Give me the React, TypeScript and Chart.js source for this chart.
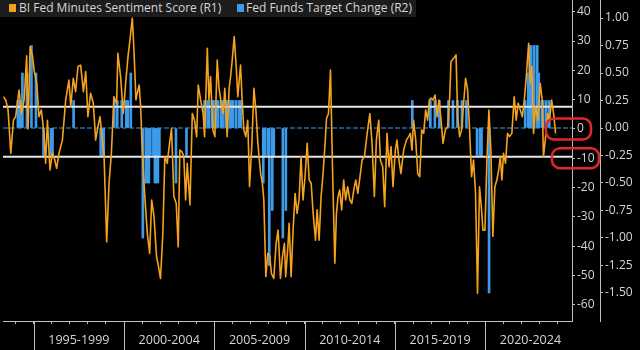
import { useEffect, useRef } from 'react';
import { Chart, registerables } from 'chart.js';

Chart.register(...registerables);

// ---- data ----
const sentimentDates = [
  1993.32, 1993.45, 1993.58, 1993.73, 1993.88, 1994.0, 1994.19, 1994.32, 1994.47, 1994.61, 1994.69, 1994.8, 1994.93,
  1995.02, 1995.17, 1995.29, 1995.42, 1995.57, 1995.66, 1995.76, 1995.9, 1996.03, 1996.12, 1996.27, 1996.4, 1996.59,
  1996.77, 1996.95, 1997.05, 1997.19, 1997.32, 1997.45, 1997.6, 1997.75, 1997.88, 1998.0, 1998.15, 1998.3, 1998.43,
  1998.52, 1998.67, 1998.8, 1998.89, 1999.04, 1999.17, 1999.3, 1999.44, 1999.59, 1999.66, 1999.81, 1999.96, 2000.09,
  2000.22, 2000.33, 2000.46, 2000.55, 2000.66, 2000.73, 2000.84, 2000.92, 2001.01, 2001.14, 2001.29, 2001.42, 2001.53,
  2001.66, 2001.8, 2001.91, 2002.02, 2002.15, 2002.26, 2002.39, 2002.52, 2002.63, 2002.76, 2002.89, 2003.0, 2003.09,
  2003.2, 2003.31, 2003.41, 2003.5, 2003.65, 2003.78, 2003.9, 2004.02, 2004.11, 2004.24, 2004.38, 2004.46, 2004.61,
  2004.7, 2004.79, 2004.92, 2005.03, 2005.16, 2005.25, 2005.38, 2005.49, 2005.58, 2005.71, 2005.82, 2005.9, 2005.99,
  2006.1, 2006.21, 2006.3, 2006.45, 2006.54, 2006.63, 2006.74, 2006.85, 2006.95, 2007.08, 2007.19, 2007.3, 2007.41,
  2007.56, 2007.65, 2007.74, 2007.85, 2007.96, 2008.07, 2008.16, 2008.29, 2008.42, 2008.53, 2008.66, 2008.77, 2008.88,
  2008.95, 2009.07, 2009.14, 2009.25, 2009.36, 2009.47, 2009.58, 2009.69, 2009.8, 2009.91, 2010.02, 2010.14, 2010.25,
  2010.36, 2010.47, 2010.6, 2010.69, 2010.8, 2010.91, 2011.02, 2011.13, 2011.21, 2011.32, 2011.43, 2011.54, 2011.67,
  2011.76, 2011.85, 2011.94, 2012.05, 2012.16, 2012.27, 2012.38, 2012.5, 2012.61, 2012.72, 2012.83, 2012.94, 2013.09,
  2013.18, 2013.31, 2013.46, 2013.61, 2013.73, 2013.86, 2013.97, 2014.1, 2014.19, 2014.32, 2014.43, 2014.56, 2014.67,
  2014.78, 2014.89, 2015.02, 2015.11, 2015.22, 2015.33, 2015.48, 2015.63, 2015.76, 2015.85, 2015.94, 2016.03, 2016.15,
  2016.26, 2016.37, 2016.48, 2016.59, 2016.7, 2016.81, 2016.9, 2016.99, 2017.1, 2017.22, 2017.33, 2017.44, 2017.55,
  2017.66, 2017.79, 2017.92, 2018.03, 2018.1, 2018.25, 2018.38, 2018.47, 2018.58, 2018.69, 2018.8, 2018.91, 2019.02,
  2019.13, 2019.24, 2019.35, 2019.46, 2019.57, 2019.68, 2019.78, 2019.87, 2019.98, 2020.09, 2020.2, 2020.31, 2020.42,
  2020.53, 2020.64, 2020.74, 2020.83, 2020.92, 2021.01, 2021.12, 2021.23, 2021.34, 2021.47, 2021.6, 2021.71, 2021.82,
  2021.94, 2022.05, 2022.16, 2022.27, 2022.4, 2022.49, 2022.58, 2022.67, 2022.78, 2022.91, 2023.04, 2023.15, 2023.22,
  2023.34, 2023.45, 2023.56, 2023.67, 2023.78, 2023.89,
];

const sentimentScores = [
  11, 9.9, 6.5, -8.3, 3, 4.2, 13.3, 5.3, 10, 25, 0, 28, 25,
  20, 15.6, 4.2, 6.5, -1.5, -11.7, 3, -14, -8.3, -9.4, -13.4, -8.3, -3.8,
  9.9, 16.7, 7.6, 17.3, 12.7, 21.3, 21.8, 12.7, 19.6, 4.2, 12.2, 8.8, -3.8,
  -0.3, 4.2, -3.8, -8.3, -38.5, -18.5, -8.3, 11, 8.8, 25.8, 17.9, 5.3, 15.6,
  24.7, 30.4, 37.8, 27, 9.9, 12.2, 15, 7.6, -7.2, -22, -35.6, -42.4, -24.2,
  -29.9, -43.5, -47, -51, -35.6, -9.4, -11.7, -4.9, 0.2, -23, -25.4, -40.2, -7.2,
  -7.7, -9.4, -24.2, -11.7, -25.9, 5.3, 3, -2.6, 15, 9.9, 5.3, -2.6, 27.5,
  9.9, 17.9, -0.3, -2.6, 23.5, 14.4, 8.8, 5.3, 13.9, -2.6, 13.9, 17.9, 23.5,
  31.5, 21.3, 11, 21.8, 9.9, -0.3, -2.6, 3, -19.7, -4.9, 13.9, 6.5, -4.9,
  -15.2, -18, -24.2, -50.4, -42.4, -43.5, -49.3, -51, -39, -34.5, -51, -43.5, -39,
  -50.4, -40.2, -32.2, -50.4, -34.5, -22, -28.8, -24.2, -9.4, -24.2, -16.3, -4.9, -17.4,
  -18.5, -28.8, -37.9, -27.6, -37.9, -23, -15.2, -4.9, 3.6, 5.3, 20.1, -12.9, -45.8,
  -28.8, -23, -20.8, -27.6, -17.4, -24.2, -19.7, -24.2, -25.4, -20.8, -17.4, -22, -15,
  -10.6, -9.4, -1.5, 5.3, -4.9, -23, -3.8, 3, -10.6, -12.9, -26.5, -1.5, -12.9,
  -6, -19.7, -7.2, -3.8, -10.6, -15.2, -7.2, -3.8, -2.6, -1.5, -7.2, 3, -3.8,
  -15.2, -16.3, -0.3, -1.5, 6.5, 3, 9.9, 10.5, 9.9, 11.6, 4.2, 9.9, 3,
  -4.9, -0.3, 0.8, 11, 23, 24.1, 25.3, 4.2, -2.6, -0.3, 8.8, 17.3, 13.3,
  -0.3, -16.3, -10.6, -22, -56, -19.7, -26.5, -34.5, -34.5, -10.6, 6.5, -7.2, -36.7,
  -19.7, -17.4, -14, -9.4, -17.4, -8.3, -11.7, -1.5, -2.6, -1.5, 11, 3, 8.8,
  6.5, 4.2, 9.9, 17.9, 29.2, 15.6, 21.3, -1.5, 7.6, 3, 15.6, 9.9, -9.4,
  -2.6, 5.3, 3, 9.9, 5.3, -1.5,
];

// Fed funds target change by month (percentage points)
const rateChangeMonths = [
  '1994-02', '1994-03', '1994-04', '1994-05', '1994-08', '1994-11',
  '1995-02', '1995-07', '1995-12', '1996-01', '1997-03',
  '1998-09', '1998-10', '1998-11', '1999-06', '1999-08', '1999-11',
  '2000-02', '2000-03', '2000-05',
  '2001-01', '2001-03', '2001-04', '2001-05', '2001-06', '2001-08', '2001-09', '2001-10', '2001-11', '2001-12',
  '2002-11', '2003-06',
  '2004-06', '2004-08', '2004-09', '2004-11', '2004-12',
  '2005-02', '2005-03', '2005-05', '2005-06', '2005-08', '2005-09', '2005-11', '2005-12',
  '2006-01', '2006-03', '2006-05', '2006-06',
  '2007-09', '2007-10', '2007-12',
  '2008-01', '2008-03', '2008-04', '2008-10', '2008-12',
  '2015-12', '2016-12', '2017-03', '2017-06', '2017-12',
  '2018-03', '2018-06', '2018-09', '2018-12',
  '2019-07', '2019-09', '2019-10', '2020-03',
  '2022-03', '2022-05', '2022-06', '2022-07', '2022-09', '2022-11', '2022-12',
  '2023-02', '2023-03', '2023-05', '2023-07',
];
const rateChanges = [
  0.25, 0.25, 0.25, 0.5, 0.5, 0.75,
  0.5, -0.25, -0.25, -0.25, 0.25,
  -0.25, -0.25, -0.25, 0.25, 0.25, 0.25,
  0.25, 0.25, 0.5,
  -1.0, -0.5, -0.5, -0.5, -0.25, -0.25, -0.5, -0.5, -0.5, -0.25,
  -0.5, -0.25,
  0.25, 0.25, 0.25, 0.25, 0.25,
  0.25, 0.25, 0.25, 0.25, 0.25, 0.25, 0.25, 0.25,
  0.25, 0.25, 0.25, 0.25,
  -0.5, -0.25, -0.25,
  -1.25, -0.75, -0.25, -1.0, -0.75,
  0.25, 0.25, 0.25, 0.25, 0.25,
  0.25, 0.25, 0.25, 0.25,
  -0.25, -0.25, -0.25, -1.5,
  0.25, 0.5, 0.75, 0.75, 0.75, 0.75, 0.5,
  0.25, 0.25, 0.25, 0.25,
];

const periodStarts = [1995, 2000, 2005, 2010, 2015, 2020];
const periodLabels = ['1995-1999', '2000-2004', '2005-2009', '2010-2014', '2015-2019', '2020-2024'];
const xMin = 1993.3;
const xMax = 2024.8;
const r1Min = -65.5;
const r1Max = 44;
const r1TickValues = [40, 35, 30, 25, 20, 15, 10, 5, 0, -5, -10, -15, -20, -25, -30, -35, -40, -45, -50, -55, -60];
const r2Min = -1.755;
const r2Max = 1.164;
const r2TickValues = [1.0, 0.75, 0.5, 0.25, 0, -0.25, -0.5, -0.75, -1.0, -1.25, -1.5];
const referenceLevels = [7.6, -9.5];
const circledLevels = [0, -10];

const seriesNames = ['BI Fed Minutes Sentiment Score (R1)', 'Fed Funds Target Change (R2)'];

// ---- styles ----
const ORANGE = '#f5a21c';
const BLUE = '#3d9be9';
const AXIS = '#bdbdbd';
const LABEL = '#d6d6d6';
const FONT = "'Open Sans', 'DejaVu Sans', sans-serif";

const monthToYear = (m: string) => {
  const [y, mo] = m.split('-').map(Number);
  return y + (mo - 0.5) / 12;
};

const decorPlugin = {
  id: 'decor',
  beforeDraw(chart: any) {
    const { ctx, width, height } = chart;
    ctx.save();
    ctx.fillStyle = '#000';
    ctx.fillRect(0, 0, width, height);
    ctx.restore();
  },
  afterDraw(chart: any) {
    const { ctx, height } = chart;
    const x = chart.scales.x;
    const y1 = chart.scales.y1;
    ctx.save();
    ctx.strokeStyle = AXIS;
    ctx.lineWidth = 1;
    periodStarts.forEach((p) => {
      const px = Math.round(x.getPixelForValue(p)) + 0.5;
      ctx.beginPath();
      ctx.moveTo(px, x.top);
      ctx.lineTo(px, height);
      ctx.stroke();
    });
    // red annotation outlines around the 0 and -10 labels
    ctx.strokeStyle = '#e3262e';
    ctx.lineWidth = 2.5;
    const boxes = [
      { v: circledLevels[0], dx: -26, w: 45, h: 21 },
      { v: circledLevels[1], dx: -20, w: 47, h: 20 },
    ];
    boxes.forEach((b) => {
      const cy = y1.getPixelForValue(b.v);
      ctx.beginPath();
      (ctx as any).roundRect(y1.left + b.dx, cy - b.h / 2, b.w, b.h, 8);
      ctx.stroke();
    });
    ctx.restore();
  },
};

export default function App() {
  const canvasRef = useRef<HTMLCanvasElement | null>(null);

  useEffect(() => {
    document.body.style.margin = '0';
    document.body.style.background = '#000';
    const canvas = canvasRef.current;
    if (!canvas) return;

    const lineData = sentimentDates.map((d, i) => ({ x: d, y: sentimentScores[i] }));
    const barData = rateChangeMonths.map((m, i) => ({ x: monthToYear(m), y: rateChanges[i] }));

    const chart = new Chart(canvas, {
      type: 'bar',
      data: {
        datasets: [
          {
            type: 'line',
            label: seriesNames[0],
            data: lineData,
            yAxisID: 'y1',
            borderColor: ORANGE,
            borderWidth: 1.6,
            pointRadius: 0,
            tension: 0,
            borderJoinStyle: 'round',
            order: 0,
          } as any,
          ...referenceLevels.map((lv) => ({
            type: 'line',
            label: 'ref',
            data: [{ x: xMin, y: lv }, { x: xMax, y: lv }],
            yAxisID: 'y1',
            borderColor: '#e6e6e6',
            borderWidth: 2,
            pointRadius: 0,
            order: 1,
          })) as any,
          {
            type: 'bar',
            label: seriesNames[1],
            data: barData,
            yAxisID: 'y2',
            backgroundColor: BLUE,
            borderWidth: 0,
            barThickness: 2,
            order: 2,
          } as any,
          {
            type: 'line',
            label: 'zero',
            data: [{ x: xMin, y: 0 }, { x: xMax, y: 0 }],
            yAxisID: 'y2',
            borderColor: BLUE,
            borderWidth: 1,
            borderDash: [5, 2],
            pointRadius: 0,
            order: 3,
          } as any,
        ],
      },
      options: {
        responsive: false,
        animation: false,
        events: [],
        layout: { padding: { left: 3, top: 0, right: 0, bottom: 0 } },
        plugins: { legend: { display: false }, tooltip: { enabled: false } },
        scales: {
          x: {
            type: 'linear',
            position: 'bottom',
            min: xMin,
            max: xMax,
            offset: false,
            afterBuildTicks: (s: any) => {
              const t: any[] = [];
              for (let y = 1994; y <= 2024; y++) t.push({ value: y });
              periodStarts.forEach((p) => t.push({ value: p + 2.5 }));
              s.ticks = t;
            },
            afterFit: (s: any) => {
              s.height = 29;
              s.paddingLeft = 0;
              s.paddingRight = 0;
            },
            grid: {
              drawOnChartArea: false,
              offset: false,
              tickLength: 3,
              color: AXIS,
              tickColor: (c: any) => (c.tick && c.tick.value % 1 !== 0 ? 'rgba(0,0,0,0)' : AXIS),
            },
            border: { display: true, color: AXIS },
            ticks: {
              autoSkip: false,
              maxRotation: 0,
              minRotation: 0,
              padding: 9,
              color: LABEL,
              font: { family: FONT, size: 12.5 },
              callback: (v: any) => {
                const i = periodStarts.findIndex((p) => Math.abs(p + 2.5 - Number(v)) < 1e-6);
                return i >= 0 ? periodLabels[i] : '';
              },
            },
          },
          y1: {
            type: 'linear',
            position: 'right',
            min: r1Min,
            max: r1Max,
            afterBuildTicks: (s: any) => {
              s.ticks = r1TickValues.map((v) => ({ value: v }));
            },
            afterFit: (s: any) => {
              s.width = 28;
              s.paddingTop = 0;
              s.paddingBottom = 0;
            },
            grid: { drawOnChartArea: false, tickLength: 3, color: AXIS },
            border: { display: true, color: AXIS },
            ticks: {
              padding: 2,
              color: LABEL,
              font: { family: FONT, size: 12 },
              callback: (v: any) => (Number(v) % 10 === 0 ? String(v) : ''),
            },
          },
          y2: {
            type: 'linear',
            position: 'right',
            min: r2Min,
            max: r2Max,
            afterBuildTicks: (s: any) => {
              s.ticks = r2TickValues.map((v) => ({ value: v }));
            },
            afterFit: (s: any) => {
              s.width = 40;
              s.paddingTop = 0;
              s.paddingBottom = 0;
            },
            grid: { drawOnChartArea: false, tickLength: 3, color: AXIS },
            border: { display: true, color: AXIS },
            ticks: {
              padding: 2,
              color: LABEL,
              font: { family: FONT, size: 12 },
              callback: (v: any) => Number(v).toFixed(2),
            },
          },
        },
      } as any,
      plugins: [decorPlugin],
    });

    return () => chart.destroy();
  }, []);

  const legendText: any = {
    position: 'absolute',
    top: 0,
    lineHeight: '16px',
    fontFamily: FONT,
    fontSize: 12,
    color: LABEL,
    whiteSpace: 'nowrap',
  };

  return (
    <div style={{ position: 'relative', width: 640, height: 350, background: '#000', overflow: 'hidden' }}>
      <canvas ref={canvasRef} width={640} height={350} style={{ display: 'block', width: 640, height: 350 }} />
      <div
        style={{
          position: 'absolute',
          left: 0,
          top: 0,
          width: 416,
          height: 17,
          background: '#1c1c1c',
        }}
      >
        <span style={{ position: 'absolute', left: 9, top: 4, width: 7, height: 8, background: ORANGE }} />
        <span style={{ ...legendText, left: 19 }}>{seriesNames[0]}</span>
        <span style={{ position: 'absolute', left: 237, top: 4, width: 7, height: 8, background: BLUE }} />
        <span style={{ ...legendText, left: 246 }}>{seriesNames[1]}</span>
      </div>
    </div>
  );
}
